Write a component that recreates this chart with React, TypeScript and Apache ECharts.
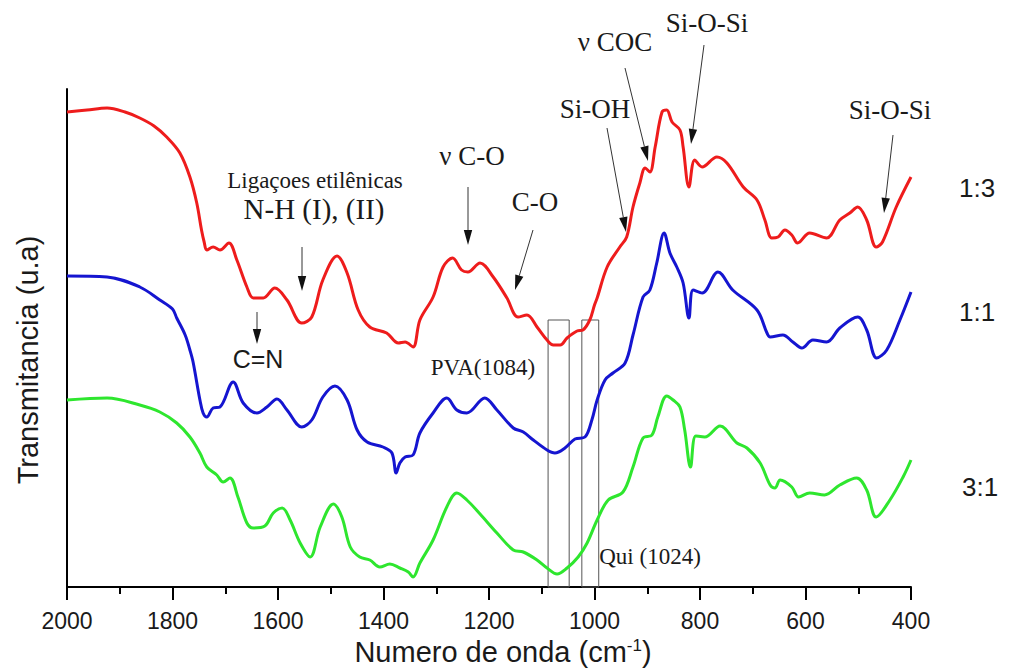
import React, { useEffect, useRef } from "react";
import * as echarts from "echarts";

const FONT_SANS = '"Liberation Sans", Arial, sans-serif';
const FONT_SERIF = '"Liberation Serif", "Times New Roman", serif';

// [wavenumber (cm-1), transmittance (a.u.)]
const red13: [number, number][] = [
  [2000, 475], [1962, 477], [1924, 479], [1890, 475], [1862, 469], [1835, 461], [1811, 450], [1786, 434],
  [1767, 410], [1754, 384], [1745, 357], [1740, 345], [1735, 337], [1723, 340], [1710, 337], [1693, 344],
  [1678, 327], [1659, 300], [1647, 289], [1628, 289], [1606, 299], [1583, 287], [1555, 264], [1536, 270],
  [1515, 307], [1488, 331], [1469, 314], [1448, 277], [1426, 260], [1394, 254], [1372, 244], [1359, 245],
  [1344, 240], [1331, 267], [1306, 290], [1287, 320], [1269, 329], [1252, 317], [1240, 315], [1217, 324],
  [1192, 310], [1166, 289], [1145, 270], [1128, 272], [1109, 260], [1090, 247], [1078, 242], [1065, 242],
  [1052, 249], [1033, 256], [1022, 257], [1009, 267], [1000, 282], [995, 289], [976, 320], [952, 340],
  [939, 350], [927, 380], [914, 404], [904, 419], [895, 415], [885, 440], [872, 475], [863, 477],
  [853, 465], [838, 457], [832, 440], [821, 400], [810, 427], [796, 420], [768, 430], [749, 424],
  [718, 400], [692, 387], [677, 367], [664, 349], [652, 350], [639, 357], [626, 352], [615, 344],
  [592, 354], [560, 349], [535, 367], [516, 374], [501, 380], [484, 367], [466, 340], [454, 345],
  [428, 380], [400, 410],
];

const blue11: [number, number][] = [
  [2000, 311], [1924, 310], [1862, 300], [1824, 287], [1800, 278], [1792, 269], [1776, 252], [1767, 237],
  [1761, 225], [1748, 187], [1742, 174], [1735, 170], [1723, 179], [1710, 180], [1685, 205], [1666, 184],
  [1640, 174], [1621, 180], [1602, 188], [1583, 177], [1555, 160], [1536, 167], [1515, 190], [1492, 201],
  [1469, 187], [1450, 157], [1431, 145], [1401, 140], [1384, 134], [1376, 114], [1369, 124], [1359, 130],
  [1344, 132], [1331, 154], [1306, 174], [1280, 189], [1261, 177], [1242, 174], [1208, 189], [1185, 177],
  [1154, 159], [1135, 155], [1116, 147], [1090, 137], [1075, 134], [1056, 139], [1037, 148], [1018, 150],
  [1005, 167], [995, 187], [980, 207], [965, 214], [942, 224], [927, 252], [908, 290], [895, 297],
  [882, 324], [868, 354], [857, 334], [844, 320], [832, 304], [821, 269], [813, 297], [796, 294],
  [766, 315], [738, 297], [692, 277], [673, 254], [667, 250], [643, 252], [624, 245], [607, 239],
  [586, 247], [560, 245], [535, 259], [501, 270], [484, 257], [465, 229], [446, 237], [421, 267],
  [400, 295],
];

const green31: [number, number][] = [
  [2000, 187], [1924, 189], [1862, 182], [1824, 175], [1792, 164], [1767, 150], [1748, 134], [1735, 120],
  [1716, 112], [1704, 105], [1691, 109], [1676, 90], [1659, 64], [1647, 59], [1625, 61], [1609, 74],
  [1592, 79], [1577, 67], [1558, 44], [1539, 30], [1520, 60], [1495, 83], [1479, 70], [1463, 40],
  [1445, 30], [1426, 27], [1407, 20], [1388, 23], [1369, 19], [1353, 15], [1344, 10], [1331, 24],
  [1306, 47], [1280, 80], [1261, 94], [1242, 87], [1217, 73], [1185, 54], [1154, 37], [1135, 35],
  [1109, 27], [1090, 19], [1071, 13], [1052, 19], [1031, 30], [1014, 44], [995, 67], [974, 87],
  [946, 95], [927, 120], [908, 149], [891, 152], [880, 170], [863, 191], [851, 187], [838, 180],
  [829, 157], [818, 120], [808, 151], [791, 150], [762, 161], [730, 144], [711, 139], [686, 124],
  [667, 102], [658, 99], [648, 107], [626, 100], [613, 90], [592, 94], [564, 92], [535, 102],
  [503, 109], [484, 97], [466, 70], [440, 87], [415, 110], [400, 127],
];

// PVA (1084) and Qui (1024) bands, [from, to] in cm-1, and the height of the boxes
const bandBoxes: [number, number][] = [[1088, 1048], [1024, 992]];
const bandBoxTop = 267;

const xTicks = { min: 400, max: 2000, interval: 200 };

const seriesNames = ["1:3", "1:1", "3:1"];
const seriesColors = ["#ee1c1c", "#1515d0", "#2ee62e"];

// annotations (page pixels)
const notes = [
  { text: "Ligaçoes etilênicas", x: 315, y: 180, size: 23, font: FONT_SERIF },
  { text: "N-H (I), (II)", x: 314, y: 209, size: 29, font: FONT_SERIF },
  { text: "C=N", x: 258, y: 359, size: 25, font: FONT_SANS },
  { text: "ν C-O", x: 472, y: 156, size: 27, font: FONT_SERIF },
  { text: "C-O", x: 535, y: 202, size: 27, font: FONT_SERIF },
  { text: "Si-OH", x: 595, y: 109, size: 27, font: FONT_SERIF },
  { text: "ν COC", x: 615, y: 42, size: 27, font: FONT_SERIF },
  { text: "Si-O-Si", x: 707, y: 23, size: 27, font: FONT_SERIF },
  { text: "Si-O-Si", x: 890, y: 110, size: 27, font: FONT_SERIF },
  { text: "PVA(1084)", x: 483, y: 367, size: 23, font: FONT_SERIF },
  { text: "Qui (1024)", x: 650, y: 556, size: 23, font: FONT_SERIF },
];
const arrows = [
  { x1: 625, y1: 68, x2: 648, y2: 161 },
  { x1: 704, y1: 45, x2: 691, y2: 144 },
  { x1: 607, y1: 128, x2: 626, y2: 232 },
  { x1: 893, y1: 135, x2: 884, y2: 213 },
  { x1: 468, y1: 187, x2: 468, y2: 245 },
  { x1: 533, y1: 230, x2: 515, y2: 290 },
  { x1: 302, y1: 247, x2: 302, y2: 291 },
  { x1: 257, y1: 312, x2: 257, y2: 344 },
];
const seriesLabels = [
  { text: "1:3", x: 959, y: 188 },
  { text: "1:1", x: 959, y: 312 },
  { text: "3:1", x: 962, y: 487 },
];

function arrowElements(a: { x1: number; y1: number; x2: number; y2: number }) {
  const dx = a.x2 - a.x1;
  const dy = a.y2 - a.y1;
  const L = Math.hypot(dx, dy);
  const ux = dx / L;
  const uy = dy / L;
  const hl = 15;
  const hw = 4.2;
  const bx = a.x2 - ux * hl;
  const by = a.y2 - uy * hl;
  return [
    { type: "line", shape: { x1: a.x1, y1: a.y1, x2: bx, y2: by }, style: { stroke: "#333", lineWidth: 1 } },
    {
      type: "polygon",
      shape: { points: [[a.x2, a.y2], [bx - uy * hw, by + ux * hw], [bx + uy * hw, by - ux * hw]] },
      style: { fill: "#111" },
    },
  ];
}

export default function App() {
  const ref = useRef<HTMLDivElement>(null);
  useEffect(() => {
    if (!ref.current) return;
    const chart = echarts.init(ref.current, undefined, { renderer: "svg" });
    const datasets = [red13, blue11, green31];
    const graphics: any[] = [];
    notes.forEach((n) =>
      graphics.push({
        type: "text",
        x: n.x,
        y: n.y,
        style: {
          text: n.text,
          fontSize: n.size,
          fontFamily: n.font,
          fill: "#1a1a1a",
          textAlign: "center",
          textVerticalAlign: "middle",
        },
      })
    );
    arrows.forEach((a) => graphics.push(...arrowElements(a)));
    seriesLabels.forEach((l) =>
      graphics.push({
        type: "text",
        x: l.x,
        y: l.y,
        style: {
          text: l.text,
          fontSize: 26,
          fontFamily: FONT_SANS,
          fill: "#1a1a1a",
          textAlign: "left",
          textVerticalAlign: "middle",
        },
      })
    );
    graphics.push({
      type: "text",
      x: 28,
      y: 360,
      rotation: Math.PI / 2,
      style: {
        text: "Transmitancia (u.a)",
        fontSize: 29,
        fontFamily: FONT_SANS,
        fill: "#1a1a1a",
        textAlign: "center",
        textVerticalAlign: "middle",
      },
    });
    graphics.push({
      type: "text",
      x: 503,
      y: 652,
      style: {
        text: "Numero de onda (cm{sup|-1})",
        fontSize: 29,
        fontFamily: FONT_SANS,
        fill: "#1a1a1a",
        textAlign: "center",
        textVerticalAlign: "middle",
        rich: {
          sup: { fontSize: 17, fontFamily: FONT_SANS, fill: "#1a1a1a", verticalAlign: "top", lineHeight: 30 },
        },
      },
    });

    chart.setOption({
      animation: false,
      backgroundColor: "#ffffff",
      grid: { left: 67, right: 105, top: 89, bottom: 85, containLabel: false },
      xAxis: {
        type: "value",
        inverse: true,
        min: xTicks.min,
        max: xTicks.max,
        interval: xTicks.interval,
        axisLine: { show: true, onZero: false, lineStyle: { color: "#000", width: 2 } },
        axisTick: { show: true, length: 13, lineStyle: { color: "#000", width: 2 } },
        minorTick: { show: true, splitNumber: 2, length: 7, lineStyle: { color: "#000", width: 2 } },
        splitLine: { show: false },
        minorSplitLine: { show: false },
        axisLabel: {
          fontSize: 23,
          fontFamily: FONT_SANS,
          color: "#1a1a1a",
          margin: 22,
          formatter: (v: number) => String(v),
        },
      },
      yAxis: {
        type: "value",
        min: 0,
        max: 498,
        axisLine: { show: true, lineStyle: { color: "#000", width: 2 } },
        axisTick: { show: false },
        axisLabel: { show: false },
        splitLine: { show: false },
      },
      series: datasets.map((d, i) => ({
        type: "line",
        name: seriesNames[i],
        data: d,
        smooth: 0.35,
        showSymbol: false,
        symbol: "none",
        clip: false,
        lineStyle: { color: seriesColors[i], width: 3 },
        itemStyle: { color: seriesColors[i] },
        z: 3,
        ...(i === 2
          ? {
              markArea: {
                silent: true,
                itemStyle: { color: "rgba(0,0,0,0)", borderColor: "#555", borderWidth: 1 },
                data: bandBoxes.map(([a, b]) => [
                  { xAxis: a, yAxis: bandBoxTop },
                  { xAxis: b, yAxis: 0 },
                ]),
              },
            }
          : {}),
      })),
      graphic: graphics,
    });
    return () => chart.dispose();
  }, []);
  return <div ref={ref} style={{ position: "fixed", left: 0, top: 0, width: 1016, height: 672 }} />;
}
